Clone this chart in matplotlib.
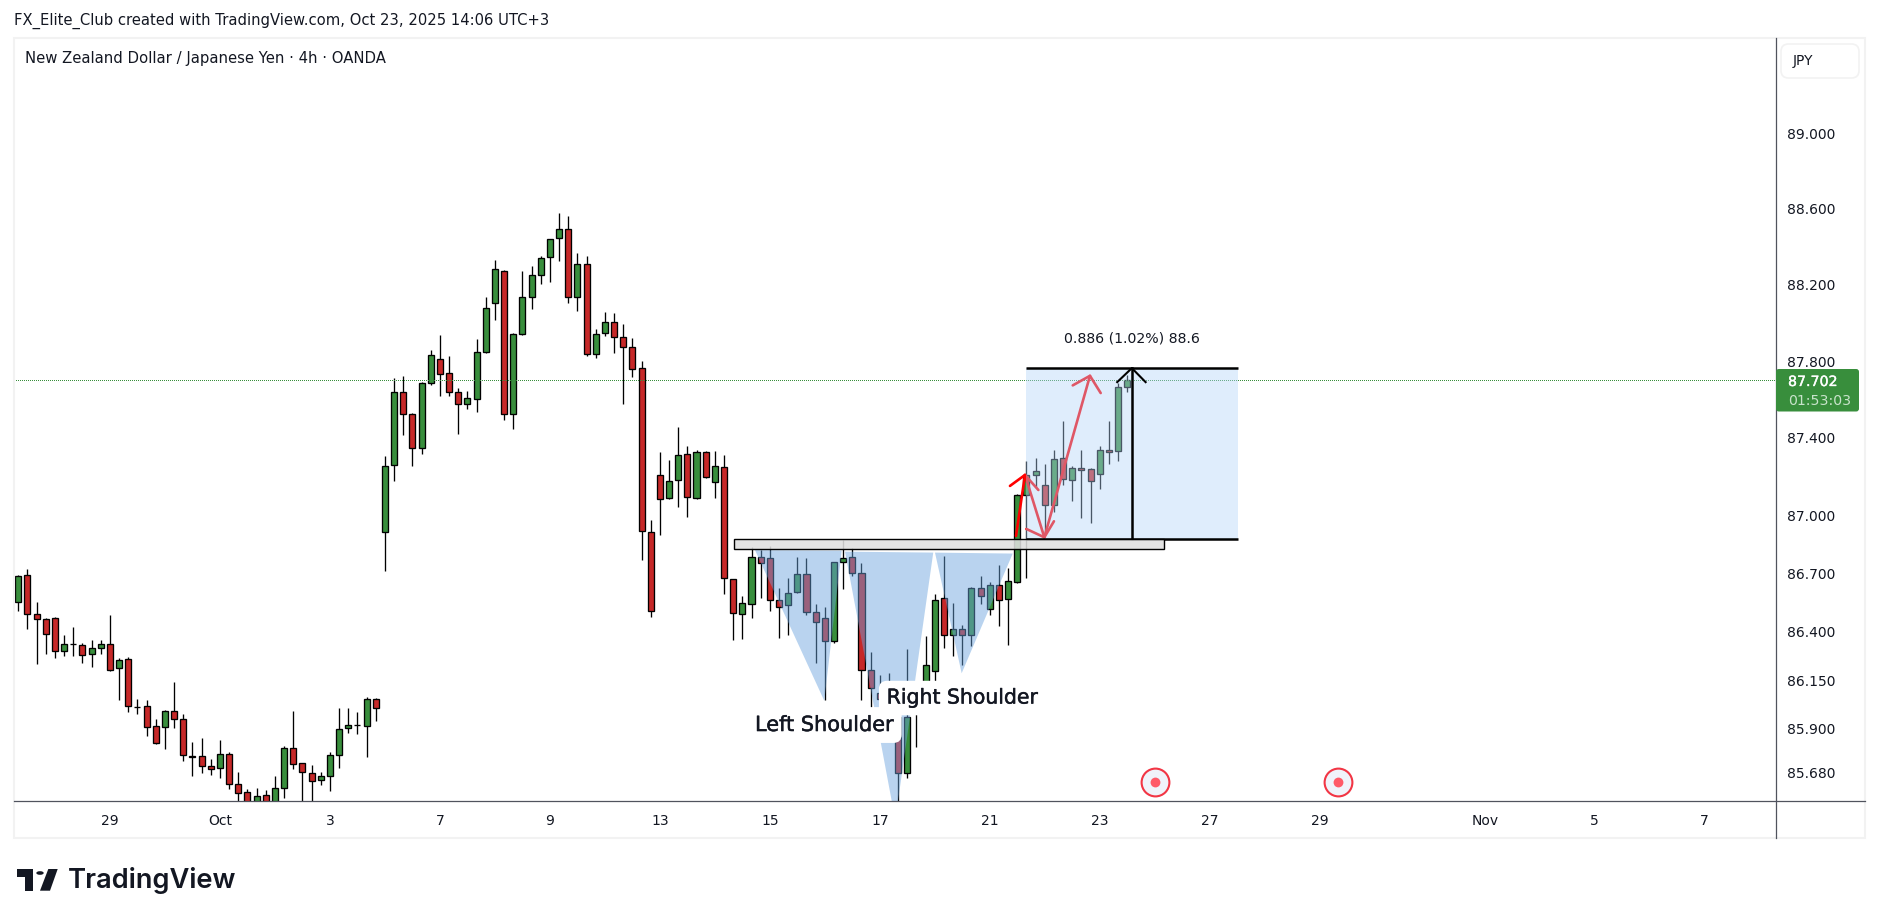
import matplotlib
matplotlib.use("Agg")
import matplotlib.pyplot as plt
import matplotlib.patheffects as pe
from matplotlib.patches import Rectangle, FancyBboxPatch, Polygon, Circle
from matplotlib.lines import Line2D
from matplotlib.ticker import FixedLocator, NullLocator, FixedFormatter

W, H = 1879, 922
FONT = "DejaVu Sans"

# 4h candles, NZD/JPY (bar index = position in list)
opens = [86.549,86.689,86.487,86.462,86.467,86.298,86.334,86.328,86.282,86.313,
         86.334,86.210,86.257,86.014,86.016,85.913,85.908,85.990,85.949,85.760,
         85.760,85.709,85.699,85.770,85.617,85.576,85.495,85.561,85.495,85.597,
         85.801,85.724,85.673,85.638,85.658,85.765,85.903,85.919,85.913,86.051,
         86.911,87.258,87.642,87.523,87.346,87.684,87.810,87.737,87.642,87.575,
         87.601,87.846,88.103,88.271,87.523,87.940,88.134,88.250,88.344,88.444,
         88.492,88.134,88.308,87.836,87.946,88.003,87.925,87.872,87.763,86.911,
         87.206,87.087,87.180,87.315,87.087,87.325,87.170,87.248,86.668,86.487,
         86.539,86.782,86.776,86.559,86.534,86.601,86.694,86.498,86.467,86.349,
         86.756,86.782,86.699,86.200,86.082,86.050,85.960,85.673,86.000,86.060,
         86.195,86.570,86.380,86.411,86.380,86.621,86.517,86.637,86.565,86.656,
         87.102,87.206,87.154,87.050,87.294,87.180,87.242,87.237,87.211,87.336,
         87.331,87.668]
highs = [86.690,86.721,86.551,86.467,86.472,86.381,86.422,86.339,86.356,86.356,
         86.484,86.261,86.267,86.051,86.046,85.951,85.995,86.138,85.975,85.832,
         85.852,85.745,85.842,85.781,85.678,85.592,85.597,85.586,85.660,85.811,
         85.992,85.724,85.714,85.678,85.781,86.005,86.005,85.985,86.063,86.056,
         87.306,87.712,87.723,87.528,87.691,87.859,87.937,87.827,87.660,87.644,
         87.916,88.136,88.330,88.278,87.946,88.273,88.299,88.352,88.441,88.578,
         88.562,88.367,88.352,87.967,88.057,88.052,87.994,87.921,87.801,86.975,
         87.327,87.286,87.457,87.358,87.337,87.332,87.332,87.311,86.668,86.582,
         86.837,86.820,86.840,86.621,86.673,86.783,86.776,86.539,86.523,86.756,
         86.871,86.828,86.751,86.293,86.176,86.184,86.000,86.308,86.100,86.376,
         86.595,86.787,86.544,86.431,86.626,86.685,86.652,86.742,86.725,87.107,
         87.280,87.296,87.263,87.338,87.488,87.253,87.338,87.242,87.357,87.486,
         87.684,87.727]
lows = [86.505,86.412,86.233,86.284,86.263,86.274,86.274,86.238,86.217,86.284,
        86.197,86.048,85.987,85.976,85.864,85.825,85.798,85.905,85.736,85.660,
        85.675,85.665,85.649,85.593,85.512,85.460,85.469,85.452,85.460,85.547,
        85.696,85.511,85.520,85.614,85.583,85.701,85.879,85.874,85.757,85.941,
        86.713,87.176,87.415,87.254,87.316,87.676,87.618,87.618,87.421,87.550,
        87.535,87.845,88.015,87.493,87.447,87.939,88.073,88.204,88.215,88.325,
        88.104,88.062,87.827,87.817,87.932,87.843,87.576,87.717,86.768,86.474,
        86.897,87.085,87.042,86.990,87.085,87.194,87.089,86.592,86.356,86.361,
        86.469,86.572,86.505,86.366,86.381,86.599,86.484,86.238,86.046,86.339,
        86.618,86.685,86.048,86.005,86.005,85.900,85.520,85.651,85.810,86.020,
        86.147,86.315,86.274,86.228,86.325,86.540,86.484,86.428,86.330,86.651,
        86.677,87.144,86.906,87.016,87.156,87.073,86.985,86.961,87.135,87.265,
        87.280,87.638]
closes = [86.683,86.487,86.462,86.385,86.298,86.334,86.333,86.277,86.313,86.334,
          86.204,86.251,86.016,86.011,85.908,85.827,85.990,85.949,85.765,85.759,
          85.709,85.694,85.770,85.617,85.571,85.486,85.556,85.478,85.597,85.801,
          85.719,85.678,85.632,85.658,85.765,85.898,85.919,85.918,86.051,86.005,
          87.253,87.642,87.523,87.346,87.684,87.831,87.731,87.637,87.575,87.606,
          87.846,88.076,88.281,87.523,87.940,88.134,88.250,88.339,88.439,88.492,
          88.134,88.308,87.836,87.940,88.003,87.925,87.872,87.757,86.916,86.503,
          87.081,87.175,87.310,87.092,87.325,87.196,87.253,86.673,86.493,86.544,
          86.782,86.751,86.559,86.523,86.596,86.694,86.498,86.446,86.349,86.756,
          86.776,86.699,86.200,86.108,86.051,85.960,85.673,85.960,86.060,86.226,
          86.564,86.380,86.411,86.380,86.621,86.580,86.637,86.559,86.658,87.102,
          87.208,87.227,87.050,87.289,87.185,87.242,87.232,87.175,87.336,87.325,
          87.663,87.700]
last_price = 87.702

y_ticks = [89.0, 88.6, 88.2, 87.8, 87.4, 87.0, 86.7, 86.4, 86.15, 85.9, 85.68]
y_labels = ["89.000","88.600","88.200","87.800","87.400","87.000","86.700","86.400","86.150","85.900","85.680"]
x_ticks = [10,22,34,46,58,70,82,94,106,118,130,142,160,172,184]
x_labels = ["29","Oct","3","7","9","13","15","17","21","23","27","29","Nov","5","7"]

# drawings (bar index, price)
left_tri = ([80.38,89.84,87.94],[86.819,86.816,86.044])
head_tri = ([90.2,99.83,95.69],[86.811,86.806,85.435])
right_tri = ([100.02,108.5,102.93],[86.806,86.801,86.185])
zone_bars, zone_prices = (78.05,125.0),(86.827,86.874)
meas_bars, meas_prices = (109.9,133.1),(86.878,87.764)
meas_mid_bar = 121.5
meas_head = ([119.9,121.5,123.0],[87.691,87.764,87.691])
arrow_paths = [
    ([108.86,109.84],[86.892,87.208]), ([108.2,109.84,111.3],[87.151,87.208,87.130]),
    ([109.84,111.95],[87.208,86.885]), ([110.0,111.95,113.0],[86.928,86.885,86.968]),
    ([111.95,116.93],[86.885,87.724]), ([115.05,116.93,118.1],[87.674,87.724,87.634]),
]
event_bars = [124.0,144.0]
event_price = 85.629

# ---- layout
fig = plt.figure(figsize=(W/100, H/100), dpi=100, facecolor="white")
def fx(p): return p/W
def fy(p): return 1-p/H
ax_l, ax_r, ax_t, ax_b = 14, 1775.7, 38, 800.5
ax = fig.add_axes([fx(ax_l), fy(ax_b), (ax_r-ax_l)/W, (ax_b-ax_t)/H])
ax.set_yscale("log")
ax.set_xlim(-0.47, 191.75)
ax.set_ylim(85.535, 89.505)
for s in ax.spines.values():
    s.set_visible(False)
ax.yaxis.tick_right()
ax.yaxis.set_major_locator(FixedLocator(y_ticks))
ax.yaxis.set_major_formatter(FixedFormatter(y_labels))
ax.yaxis.set_minor_locator(NullLocator())
ax.set_xticks(x_ticks, x_labels)
ax.tick_params(axis="both", length=0, labelsize=10.0, labelcolor="#131722", labelfontfamily=FONT)
ax.tick_params(axis="y", pad=8)
ax.tick_params(axis="x", pad=9.5)

# candles
idx = list(range(len(opens)))
GREEN, RED = "#388e3c", "#c62828"
ax.vlines(idx, lows, highs, color="black", lw=0.95, zorder=2)
bottoms = [min(o, c) for o, c in zip(opens, closes)]
tops = [max(o, c) for o, c in zip(opens, closes)]
cols = [GREEN if c >= o else RED for o, c in zip(opens, closes)]
ax.bar(idx, [t-b for t, b in zip(tops, bottoms)], bottom=bottoms, width=0.66,
       color=cols, edgecolor="black", linewidth=0.95, zorder=2.2)

# last-price line
ax.axhline(last_price, color=GREEN, lw=0.72, ls=(0, (1, 2)), antialiased=False, zorder=2.5)

# red arrows (below the measure overlay)
for xs, ys in arrow_paths:
    ax.plot(xs, ys, color="#ff0000", lw=1.9, solid_capstyle="round", zorder=3)

# pattern triangles
for tx, ty in (left_tri, head_tri, right_tri):
    ax.fill(tx, ty, facecolor=(106/255, 163/255, 221/255, 0.47), edgecolor="none", zorder=3.5)

# measure box
ax.add_patch(Rectangle((meas_bars[0], meas_prices[0]), meas_bars[1]-meas_bars[0],
                       meas_prices[1]-meas_prices[0], facecolor=(179/255, 213/255, 250/255, 0.41),
                       edgecolor="none", zorder=4))
for py in meas_prices:
    ax.plot(meas_bars, [py, py], color="black", lw=1.8, solid_capstyle="butt", zorder=4.3)
ax.plot([meas_mid_bar, meas_mid_bar], meas_prices, color="black", lw=1.8, zorder=4.3)
ax.plot(*meas_head, color="black", lw=1.5, zorder=4.3)
ax.text(meas_mid_bar, 87.92, "0.886 (1.02%) 88.6", ha="center", va="center", fontsize=10.2,
        color="#131722", family=FONT, zorder=6)

# support zone
ax.add_patch(Rectangle((zone_bars[0], zone_prices[0]), zone_bars[1]-zone_bars[0],
                       zone_prices[1]-zone_prices[0], facecolor=(0.88, 0.88, 0.88, 0.88),
                       edgecolor="black", linewidth=1.0, zorder=5))

# shoulder labels
box = dict(boxstyle="round,pad=0.38,rounding_size=0.4", facecolor="white", edgecolor="none")
stroke = [pe.withStroke(linewidth=0.35, foreground="#131722")]
ax.text(80.38, 85.920, "Left Shoulder", ha="left", va="center", fontsize=15.0, color="#131722",
        family=FONT, bbox=box, zorder=6, path_effects=stroke)
ax.text(94.75, 86.058, "Right Shoulder", ha="left", va="center", fontsize=14.7, color="#131722",
        family=FONT, bbox=box, zorder=6.5, path_effects=stroke)

# event markers
ax.scatter(event_bars, [event_price]*2, s=400, facecolor="#f0f3fa", edgecolor="#f23645", linewidth=1.5, zorder=7)
ax.scatter(event_bars, [event_price]*2, s=50, color="#ff5a68", linewidth=0, zorder=7.1)

# ---- chrome drawn in figure pixels
def rect(x0, y0, x1, y1, **kw):
    fig.add_artist(Rectangle((fx(x0), fy(y1)), (x1-x0)/W, (y1-y0)/H, transform=fig.transFigure, **kw))
def line(x0, y0, x1, y1, **kw):
    fig.add_artist(Line2D([fx(x0), fx(x1)], [fy(y0), fy(y1)], transform=fig.transFigure, **kw))
def txt(x, y, s, **kw):
    kw.setdefault("family", FONT)
    kw.setdefault("color", "#131722")
    kw.setdefault("va", "center")
    fig.text(fx(x), fy(y), s, **kw)

rect(14, 38, 1865, 838, facecolor="none", edgecolor="#f2f2f2", linewidth=1.5)
line(14, 800.5, 1865, 800.5, color="#50535e", lw=0.9)
line(ax_r, 38, ax_r, 838, color="#50535e", lw=0.9)

txt(14, 20.5, "FX_Elite_Club created with TradingView.com, Oct 23, 2025 14:06 UTC+3", fontsize=10.65)
txt(25, 59, "New Zealand Dollar / Japanese Yen \u00b7 4h \u00b7 OANDA", fontsize=10.75)

fig.add_artist(FancyBboxPatch((fx(1781), fy(78)), 78/W, 34/H, boxstyle="round,pad=0,rounding_size=0.004",
                              mutation_aspect=W/H, transform=fig.transFigure,
                              facecolor="white", edgecolor="#f2f2f2", linewidth=1.2))
txt(1793, 60.5, "JPY", fontsize=10.0)

fig.add_artist(FancyBboxPatch((fx(1776), fy(411.5)), 83/W, 42.5/H, boxstyle="round,pad=0,rounding_size=0.0015",
                              mutation_aspect=W/H, transform=fig.transFigure,
                              facecolor=GREEN, edgecolor="none", zorder=5))
fig.text(fx(1788), fy(382), "87.702", family=FONT, color="white", fontsize=10.2, va="center", zorder=6,
         path_effects=[pe.withStroke(linewidth=0.25, foreground="white")])
fig.text(fx(1788), fy(401), "01:53:03", family=FONT, color="#c8e3ca", fontsize=10.2, va="center", zorder=6)

# logo
logo = "#131722"
def poly(pts):
    fig.add_artist(Polygon([(fx(x), fy(y)) for x, y in pts], closed=True, transform=fig.transFigure,
                           facecolor=logo, edgecolor="none"))
poly([(16.7, 869), (33.3, 869), (33.3, 890.7), (25, 890.7), (25, 876.5), (16.7, 876.5)])
poly([(48.3, 869), (57.7, 869), (50, 890.7), (40, 890.7)])
fig.add_artist(Circle((fx(40), fy(873)), 3.7/W, transform=fig.transFigure, facecolor=logo, edgecolor="none"))
txt(68, 880, "TradingView", family="Inter", fontsize=19.7, weight="semibold", color=logo)

fig.savefig("out.png", dpi=100)
